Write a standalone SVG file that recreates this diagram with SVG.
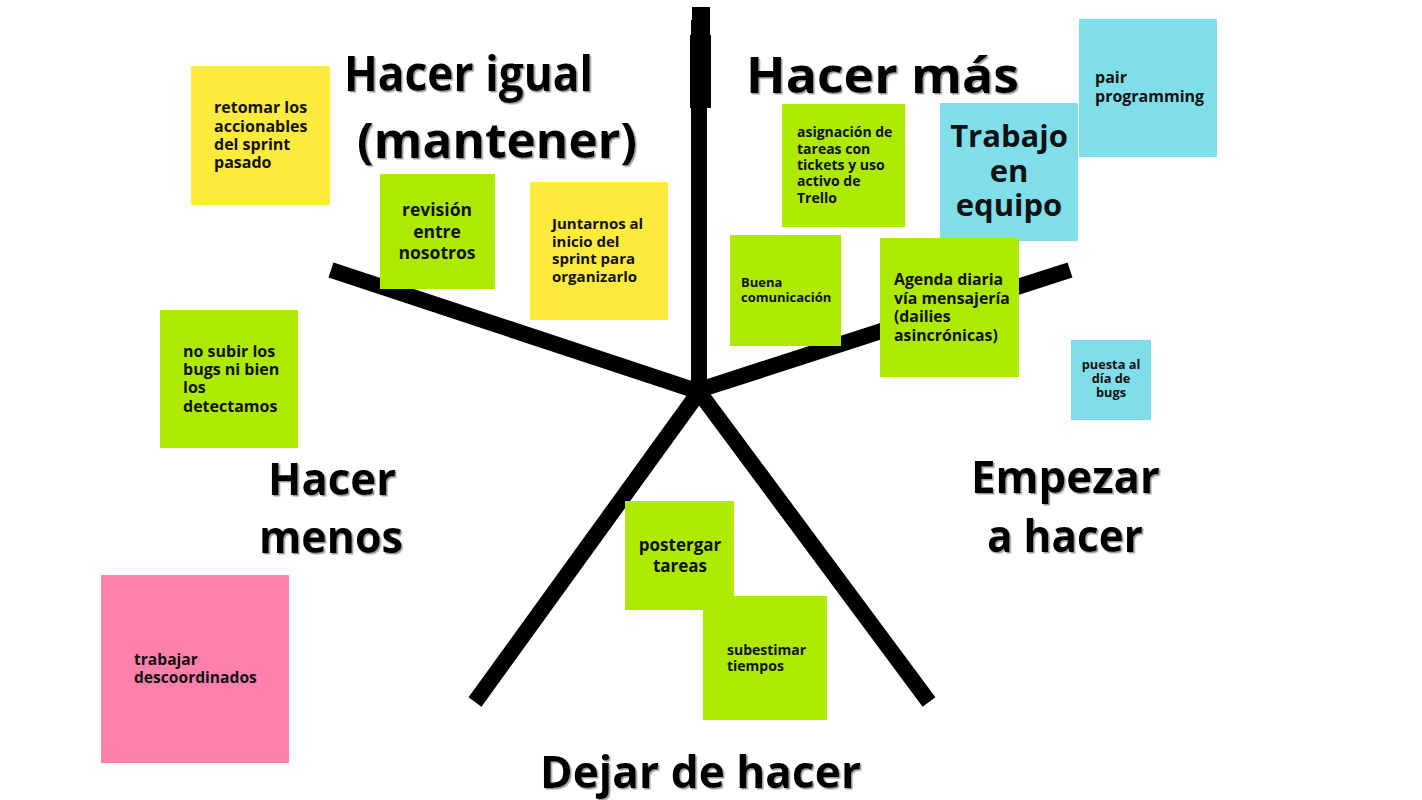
<svg xmlns="http://www.w3.org/2000/svg" width="1422" height="800" viewBox="0 0 1422 800">
  <defs>
    <filter id="shadow" x="-5%" y="-5%" width="110%" height="120%">
      <feDropShadow dx="1.5" dy="1.5" stdDeviation="0.6" flood-color="#808080" flood-opacity="0.8"/>
    </filter>
  </defs>
  <style>
    .arm { stroke: #000; stroke-width: 16; fill: none; stroke-linecap: butt; }
    .head { font-family: "Open Sans", "Liberation Sans", sans-serif; font-weight: 700; fill: #000; filter: url(#shadow); }
    .note { font-family: "Open Sans", "Liberation Sans", sans-serif; font-weight: 700; fill: #111; }
    .y { fill: #FFEB3B; }
    .g { fill: #AEEA00; }
    .b { fill: #80DEEA; }
    .p { fill: #FF80AB; }
    .c { text-anchor: middle; }
  </style>
  <rect width="1422" height="800" fill="#fff"/>

  <g id="connectors">
    <line class="arm" x1="699" y1="20" x2="699" y2="392"/>
    <rect x="692" y="7" width="18" height="30" fill="#000"/>
    <rect x="690" y="35" width="21" height="73" fill="#000"/>
    <line class="arm" x1="331" y1="270" x2="700" y2="392"/>
    <line class="arm" x1="1070" y1="270" x2="699" y2="390"/>
    <line class="arm" x1="702" y1="388" x2="475" y2="702"/>
    <line class="arm" x1="696" y1="388" x2="929" y2="702"/>
  </g>

  <g id="heading-hacer-igual">
    <text class="head" x="344" y="91" font-size="48" textLength="249" lengthAdjust="spacingAndGlyphs">Hacer igual</text>
    <text class="head" x="357" y="158" font-size="48" textLength="280" lengthAdjust="spacingAndGlyphs">(mantener)</text>
  </g>
  <g id="heading-hacer-mas">
    <text class="head" x="746" y="93" font-size="50" textLength="273" lengthAdjust="spacingAndGlyphs">Hacer más</text>
  </g>
  <g id="heading-hacer-menos">
    <text class="head" x="268" y="495" font-size="44" textLength="128" lengthAdjust="spacingAndGlyphs">Hacer</text>
    <text class="head" x="259" y="553" font-size="44" textLength="144" lengthAdjust="spacingAndGlyphs">menos</text>
  </g>
  <g id="heading-empezar">
    <text class="head" x="971" y="493" font-size="44" textLength="189" lengthAdjust="spacingAndGlyphs">Empezar</text>
    <text class="head" x="987" y="552" font-size="44" textLength="156" lengthAdjust="spacingAndGlyphs">a hacer</text>
  </g>
  <g id="heading-dejar">
    <text class="head" x="540" y="788" font-size="44" textLength="321" lengthAdjust="spacingAndGlyphs">Dejar de hacer</text>
  </g>

  <g id="note-retomar">
    <rect class="y" x="191" y="66" width="139" height="139"/>
    <text class="note" x="214" font-size="16"><tspan x="214" y="113">retomar los</tspan><tspan x="214" y="132">accionables</tspan><tspan x="214" y="150">del sprint</tspan><tspan x="214" y="168">pasado</tspan></text>
  </g>
  <g id="note-revision">
    <rect class="g" x="380" y="174" width="115" height="115"/>
    <text class="note c" font-size="17.5"><tspan x="437" y="216">revisión</tspan><tspan x="437" y="238">entre</tspan><tspan x="437" y="259">nosotros</tspan></text>
  </g>
  <g id="note-juntarnos">
    <rect class="y" x="530" y="182" width="138" height="138"/>
    <text class="note" font-size="15"><tspan x="552" y="229">Juntarnos al</tspan><tspan x="552" y="247">inicio del</tspan><tspan x="552" y="264">sprint para</tspan><tspan x="552" y="282">organizarlo</tspan></text>
  </g>
  <g id="note-asignacion">
    <rect class="g" x="782" y="104" width="123" height="123"/>
    <text class="note" font-size="14"><tspan x="797" y="137">asignación de</tspan><tspan x="797" y="154">tareas con</tspan><tspan x="797" y="170">tickets y uso</tspan><tspan x="797" y="186">activo de</tspan><tspan x="797" y="203">Trello</tspan></text>
  </g>
  <g id="note-trabajo">
    <rect class="b" x="940" y="103" width="138" height="138"/>
    <text class="note c" font-size="31"><tspan x="1009" y="147">Trabajo</tspan><tspan x="1009" y="182">en</tspan><tspan x="1009" y="216">equipo</tspan></text>
  </g>
  <g id="note-pair">
    <rect class="b" x="1079" y="19" width="138" height="138"/>
    <text class="note" font-size="16"><tspan x="1095" y="83">pair</tspan><tspan x="1095" y="102">programming</tspan></text>
  </g>
  <g id="note-buena">
    <rect class="g" x="730" y="235" width="111" height="111"/>
    <text class="note" font-size="13"><tspan x="741" y="287">Buena</tspan><tspan x="741" y="302">comunicación</tspan></text>
  </g>
  <g id="note-agenda">
    <rect class="g" x="880" y="238" width="139" height="139"/>
    <text class="note" font-size="15.8"><tspan x="894" y="285">Agenda diaria</tspan><tspan x="894" y="304">vía mensajería</tspan><tspan x="894" y="322">(dailies</tspan><tspan x="894" y="341">asincrónicas)</tspan></text>
  </g>
  <g id="note-puesta">
    <rect class="b" x="1071" y="340" width="80" height="80"/>
    <text class="note c" font-size="12.8"><tspan x="1111" y="369">puesta al</tspan><tspan x="1111" y="383">día de</tspan><tspan x="1111" y="397">bugs</tspan></text>
  </g>
  <g id="note-nosubir">
    <rect class="g" x="160" y="310" width="138" height="138"/>
    <text class="note" font-size="16"><tspan x="183" y="357">no subir los</tspan><tspan x="183" y="375">bugs ni bien</tspan><tspan x="183" y="393">los</tspan><tspan x="183" y="412">detectamos</tspan></text>
  </g>
  <g id="note-trabajar">
    <rect class="p" x="101" y="575" width="188" height="188"/>
    <text class="note" font-size="15.6"><tspan x="134" y="665">trabajar</tspan><tspan x="134" y="683">descoordinados</tspan></text>
  </g>
  <g id="note-postergar">
    <rect class="g" x="625" y="501" width="109" height="109"/>
    <text class="note c" font-size="17"><tspan x="680" y="551">postergar</tspan><tspan x="680" y="572">tareas</tspan></text>
  </g>
  <g id="note-subestimar">
    <rect class="g" x="703" y="596" width="124" height="124"/>
    <text class="note" font-size="14"><tspan x="727" y="655">subestimar</tspan><tspan x="727" y="671">tiempos</tspan></text>
  </g>
</svg>
